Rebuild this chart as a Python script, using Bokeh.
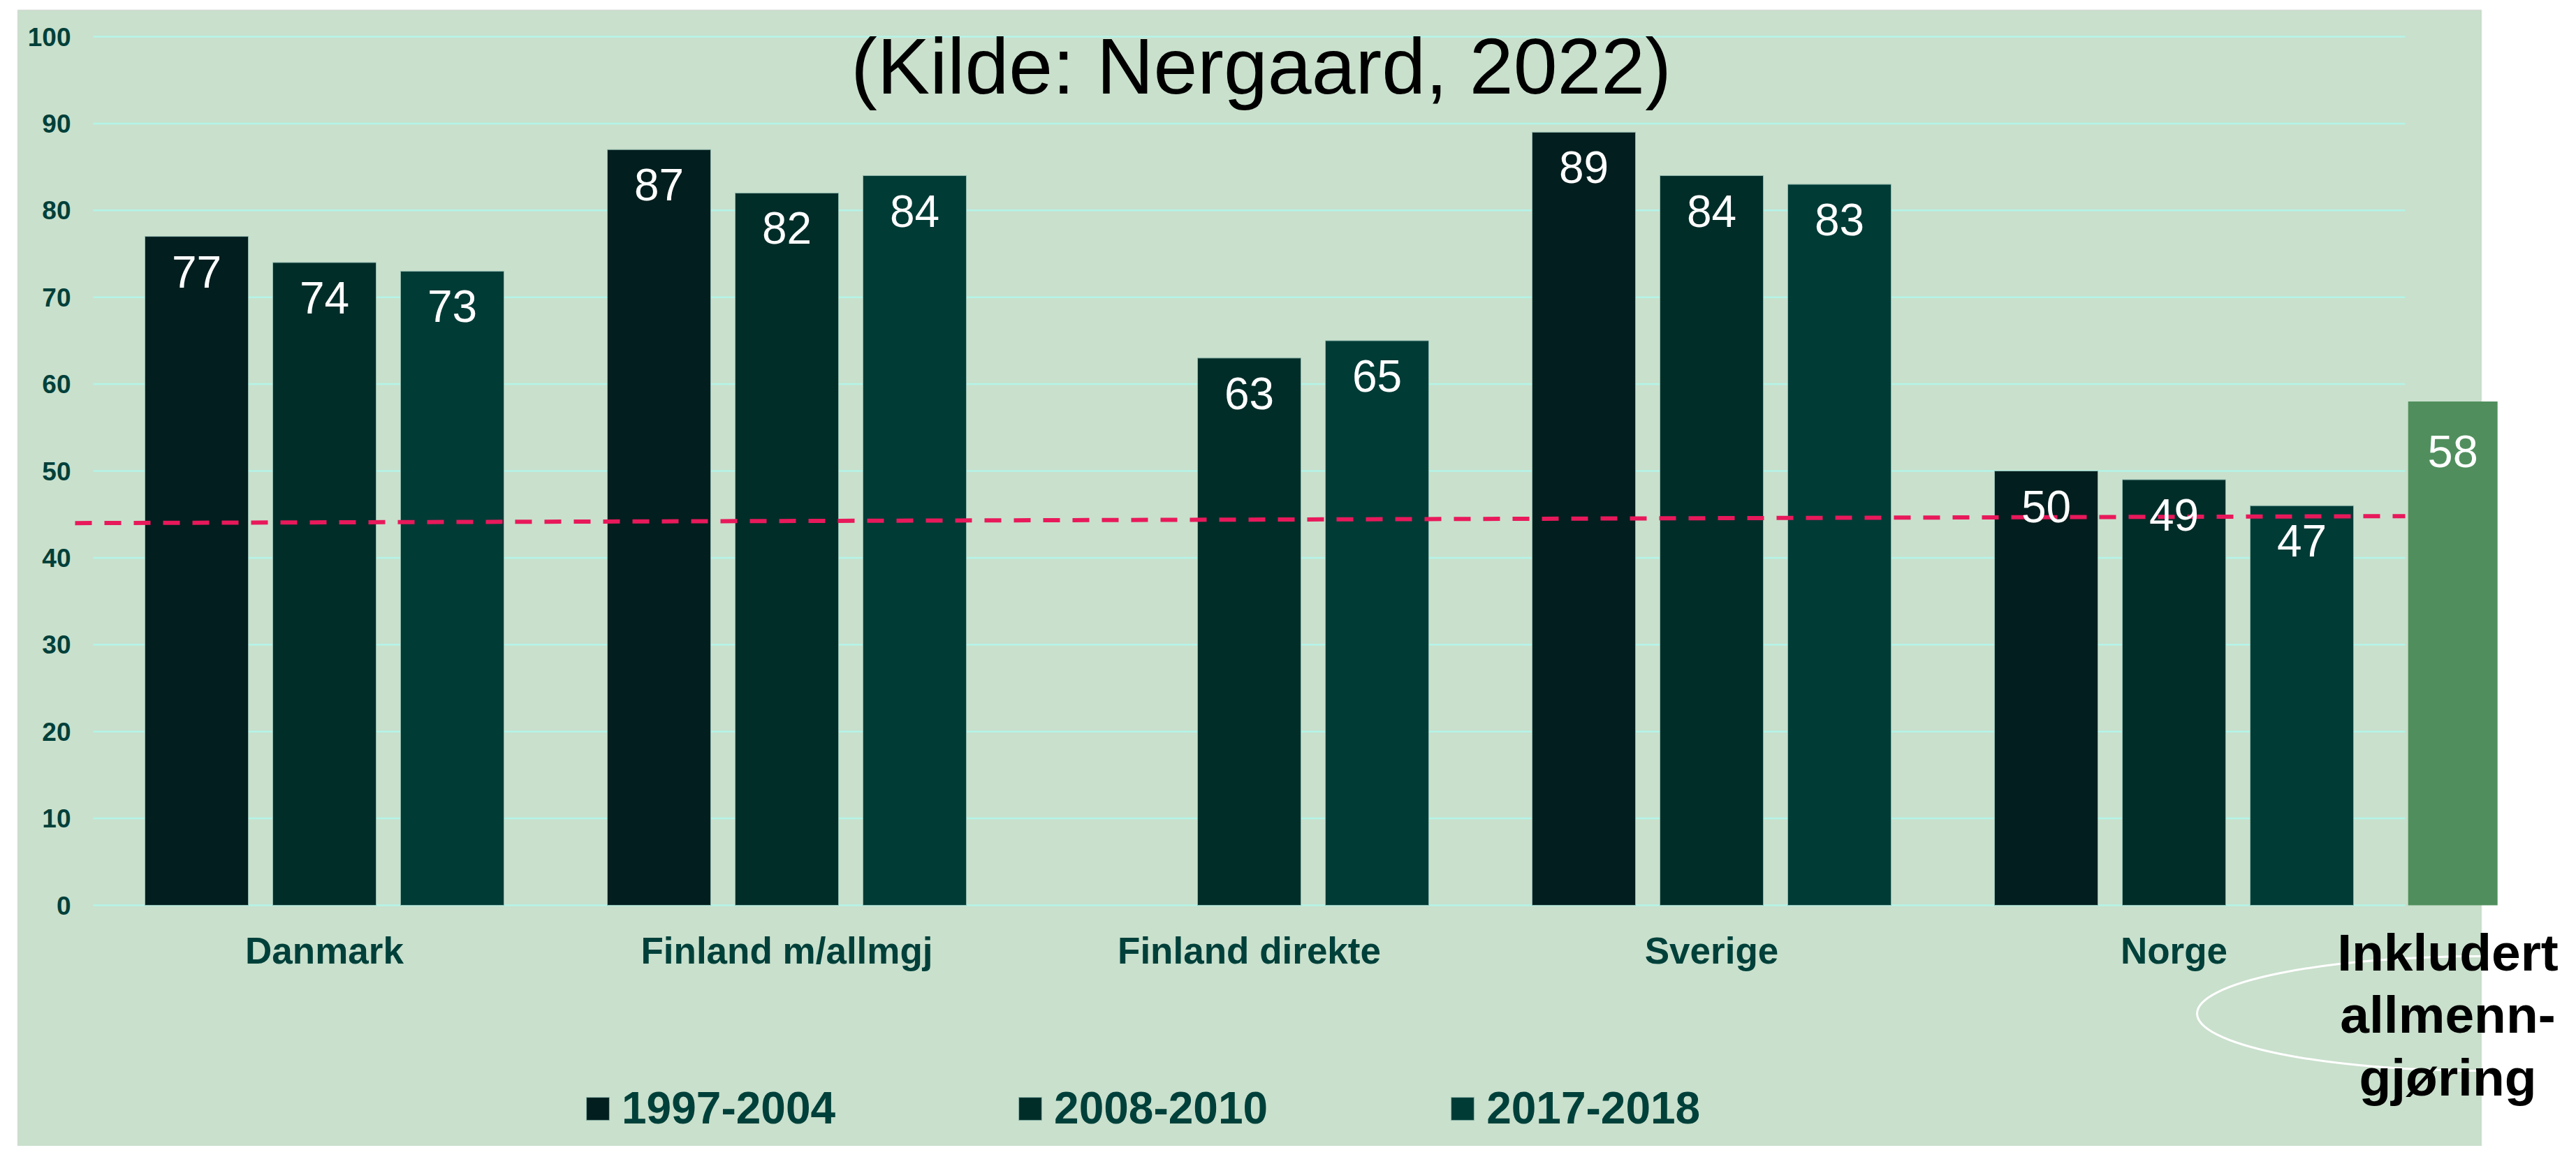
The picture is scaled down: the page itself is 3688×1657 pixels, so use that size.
import math
from bokeh.plotting import figure
from bokeh.models import (Range1d, LinearAxis, FixedTicker, ColumnDataSource, LabelSet, Label,
                          Legend, LegendItem, BoxAnnotation)
from bokeh.transform import dodge
from bokeh.core.properties import value
from bokeh.embed import file_html
from bokeh.resources import INLINE

# ---------------- data ----------------
countries = ["Danmark", "Finland m/allmgj", "Finland direkte", "Sverige", "Norge"]
periods = ["1997-2004", "2008-2010", "2017-2018"]
v_1997_2004 = [77, 87, None, 89, 50]
v_2008_2010 = [74, 82, 63, 84, 49]
v_2017_2018 = [73, 84, 65, 83, 46]
lbl_1997_2004 = ["77", "87", "", "89", "50"]
lbl_2008_2010 = ["74", "82", "63", "84", "49"]
lbl_2017_2018 = ["73", "84", "65", "83", "47"]
extra_label = ["Inkludert", "allmenn-", "gjøring"]
extra_value = [58]
avg_line = [44.0, 44.8]
yticks = [0, 10, 20, 30, 40, 50, 60, 70, 80, 90, 100]
title_text = "(Kilde: Nergaard, 2022)"

# ---------------- layout helpers (picture pixels -> data) ----------------
W, H = 3672, 1641
PX_GROUP = 662.0
X0 = 133.0
Y0 = 1296.0
PX_UNIT = 12.44


def dx(px):
    return (px - X0) / PX_GROUP


def dy(py):
    return (Y0 - py) / PX_UNIT


FONT = "Liberation Sans"
TEAL = "#00403A"
colors = ["#031E1E", "#012D29", "#003B36"]
GREEN_BAR = "#508F5D"
PANEL = "#C9E0CC"
GRID = "#B4F4E8"

p = figure(width=W, height=H, x_range=Range1d(dx(0), dx(W)), y_range=Range1d(dy(H), dy(0)),
           x_axis_type=None, y_axis_type=None, toolbar_location=None, output_backend="svg",
           min_border=0, background_fill_color="white", border_fill_color="white",
           outline_line_color=None)

# panel
panel = BoxAnnotation(left=dx(25), right=dx(3552), top=dy(14), bottom=dy(1720),
                      fill_color=PANEL, fill_alpha=1.0, line_color="#BDBDBD", line_width=2,
                      level="underlay")
p.add_layout(panel)

# gridlines
n = len(countries)
p.segment(x0=[0] * len(yticks), x1=[n] * len(yticks), y0=yticks, y1=yticks,
          line_color=GRID, line_width=2.5)

# bars
bar_step = 183 / PX_GROUP
bar_w = 148 / PX_GROUP
series = [v_1997_2004, v_2008_2010, v_2017_2018]
labels = [lbl_1997_2004, lbl_2008_2010, lbl_2017_2018]
renderers = []
for k, (vals, lbls) in enumerate(zip(series, labels)):
    src = ColumnDataSource(dict(
        x=[i + 0.5 for i in range(n)],
        top=[float("nan") if v is None else v for v in vals],
        label=lbls,
    ))
    off = (k - 1) * bar_step
    r = p.vbar(x=dodge("x", off, range=p.x_range), top="top", bottom=0, width=bar_w, source=src,
               fill_color=colors[k], line_color="#8FB8AD", line_width=1)
    renderers.append(r)
    ls = LabelSet(x=dodge("x", off, range=p.x_range), y="top", text="label", source=src,
                  y_offset=-73, text_align="center", text_baseline="alphabetic",
                  text_color="white", text_font=value(FONT), text_font_size="64px")
    p.add_layout(ls)

# extra bar (Norge incl. allmenngjøring)
gx = n + 0.103
gsrc = ColumnDataSource(dict(x=[gx], top=extra_value, label=[str(v) for v in extra_value]))
p.vbar(x="x", top="top", bottom=0, width=128 / PX_GROUP, source=gsrc,
       fill_color=GREEN_BAR, line_color=None)
p.add_layout(LabelSet(x="x", y="top", text="label", source=gsrc, y_offset=-94,
                      text_align="center", text_baseline="alphabetic", text_color="white",
                      text_font=value(FONT), text_font_size="65px"))

# dashed reference line
p.line(x=[dx(107), n], y=avg_line, line_color="#E8195B", line_width=6, line_dash="24 18")

# ellipse
p.ellipse(x=[dx(3553)], y=[dy(1451)], width=816, height=164, width_units="screen",
          height_units="screen", fill_color=None, line_color="white", line_width=3)

# y axis
yaxis = LinearAxis(fixed_location=dx(107), ticker=FixedTicker(ticks=yticks),
                   axis_line_color=None, major_tick_line_color=None, minor_tick_line_color=None,
                   major_tick_in=0, major_tick_out=0, major_label_standoff=6,
                   major_label_text_font=FONT, major_label_text_font_style="bold",
                   major_label_text_font_size="37px", major_label_text_color=TEAL)
p.add_layout(yaxis, "left")

# x axis
xt = [i + 0.5 for i in range(n)]
xaxis = LinearAxis(fixed_location=0, ticker=FixedTicker(ticks=xt),
                   major_label_overrides={t: c for t, c in zip(xt, countries)},
                   axis_line_color=None, major_tick_line_color=None, minor_tick_line_color=None,
                   major_tick_in=0, major_tick_out=0, major_label_standoff=35,
                   major_label_text_font=FONT, major_label_text_font_style="bold",
                   major_label_text_font_size="53px", major_label_text_color=TEAL)
p.add_layout(xaxis, "below")

# title
p.add_layout(Label(x=dx(1805), y=dy(94), text=title_text, text_align="center",
                   text_baseline="alphabetic", text_font=FONT, text_font_size="113px",
                   text_color="black"))

# annotation text
for j, (t, by) in enumerate(zip(extra_label, [1363, 1452, 1542])):
    p.add_layout(Label(x=dx(3504), y=dy(by), text=t, text_align="center",
                       text_baseline="alphabetic", text_font=FONT, text_font_style="bold",
                       text_font_size="75px", text_color="black"))

# legend
legend = Legend(items=[LegendItem(label=periods[k], renderers=[renderers[k]]) for k in range(3)],
                location=(835, 17), orientation="horizontal", glyph_width=41, glyph_height=41,
                label_standoff=14, spacing=258, padding=0, margin=0,
                background_fill_alpha=0, border_line_color=None,
                label_text_font=FONT, label_text_font_style="bold",
                label_text_font_size="64px", label_text_color=TEAL)
p.add_layout(legend)

open("out.html", "w").write(file_html(p, INLINE))
